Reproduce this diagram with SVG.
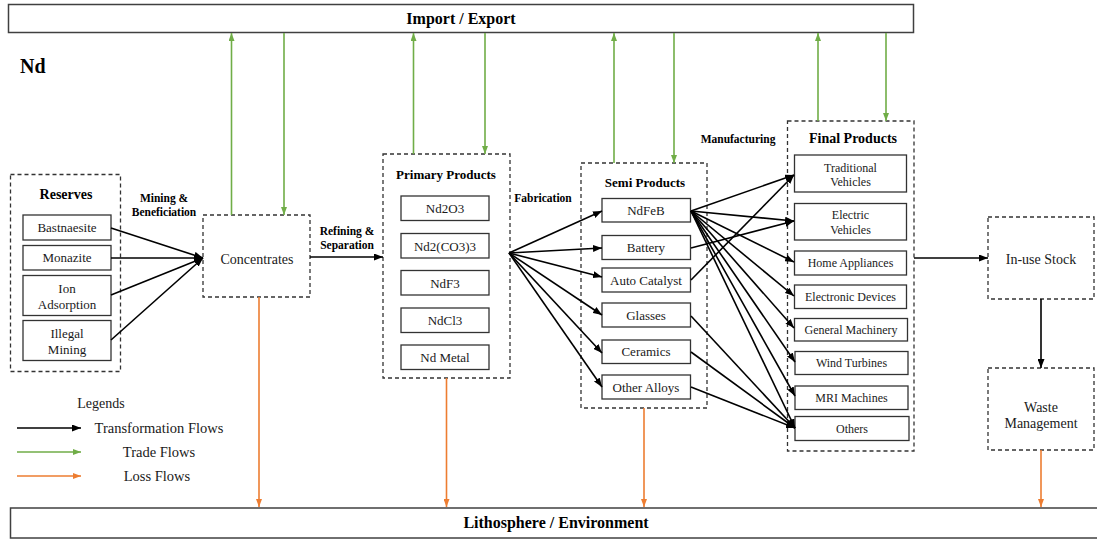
<svg xmlns="http://www.w3.org/2000/svg" width="1097" height="540" viewBox="0 0 1097 540">
<defs>
<style>
text{font-family:"Liberation Serif","Times New Roman",serif;fill:#1a1a1a;text-anchor:middle}
.t{font-size:13px}
.s{font-size:12px}
.m{font-size:14px}
.h{font-size:13px;font-weight:bold;fill:#000}
.hl{font-size:14px;font-weight:bold;fill:#000}
.lb{font-size:11.5px;font-weight:bold;fill:#000}
.big{font-size:16px;font-weight:bold;fill:#000}
.dash{fill:#fff;stroke:#333;stroke-width:1.3;stroke-dasharray:4 3}
.box{fill:#fff;stroke:#333;stroke-width:1.3}
.band{fill:#fff;stroke:#404040;stroke-width:1.5}
.k{stroke:#000;stroke-width:1.6;fill:none;marker-end:url(#ak)}
.g{stroke:#70ad47;stroke-width:1.6;fill:none;marker-end:url(#ag)}
.gn{stroke:#70ad47;stroke-width:1.6;fill:none}
.o{stroke:#ed7d31;stroke-width:1.6;fill:none;marker-end:url(#ao)}
</style>
<marker id="ak" viewBox="0 0 10 10" refX="10" refY="5" markerWidth="9" markerHeight="7" markerUnits="userSpaceOnUse" orient="auto" preserveAspectRatio="none"><path d="M0,0 L10,5 L0,10 z" fill="#000"/></marker>
<marker id="ag" viewBox="0 0 10 10" refX="10" refY="5" markerWidth="8" markerHeight="6" markerUnits="userSpaceOnUse" orient="auto" preserveAspectRatio="none"><path d="M0,0 L10,5 L0,10 z" fill="#70ad47"/></marker>
<marker id="ao" viewBox="0 0 10 10" refX="10" refY="5" markerWidth="8" markerHeight="6" markerUnits="userSpaceOnUse" orient="auto" preserveAspectRatio="none"><path d="M0,0 L10,5 L0,10 z" fill="#ed7d31"/></marker>
</defs>
<rect width="1097" height="540" fill="#fff"/>

<g id="import-export">
<rect class="band" x="8.5" y="4.5" width="905" height="28"/>
<text class="big" x="461" y="24">Import / Export</text>
</g>
<g id="lithosphere">
<rect class="band" x="10.5" y="508" width="1092" height="30"/>
<text class="big" x="556" y="528">Lithosphere / Environment</text>
</g>
<g id="title"><text x="20" y="73" style="font-size:20px;font-weight:bold;text-anchor:start;fill:#000">Nd</text></g>

<g id="reserves">
<rect class="dash" x="10.5" y="174.5" width="110" height="197"/>
<text class="hl" x="66" y="199">Reserves</text>
<rect class="box" x="23" y="215" width="88" height="25"/><text class="t" x="67" y="232">Bastnaesite</text>
<rect class="box" x="23" y="245.5" width="88" height="24.5"/><text class="t" x="67" y="262">Monazite</text>
<rect class="box" x="23" y="275.5" width="88" height="40"/><text class="t" x="67" y="293">Ion</text><text class="t" x="67" y="309">Adsorption</text>
<rect class="box" x="23" y="320.5" width="88" height="40"/><text class="t" x="67" y="338">Illegal</text><text class="t" x="67" y="354">Mining</text>
</g>

<g id="concentrates">
<rect class="dash" x="203" y="215" width="107" height="82"/>
<text class="m" x="257" y="264">Concentrates</text>
</g>

<g id="primary-products">
<rect class="dash" x="383" y="154" width="127" height="224"/>
<text class="h" x="446" y="179">Primary Products</text>
<rect class="box" x="401" y="196" width="88" height="24.5"/><text class="t" x="445" y="213">Nd2O3</text>
<rect class="box" x="401" y="233.5" width="88" height="24.5"/><text class="t" x="445" y="250.5">Nd2(CO3)3</text>
<rect class="box" x="401" y="270.5" width="88" height="24.5"/><text class="t" x="445" y="287.5">NdF3</text>
<rect class="box" x="401" y="308" width="88" height="24.5"/><text class="t" x="445" y="324.5">NdCl3</text>
<rect class="box" x="401" y="345" width="88" height="24.5"/><text class="t" x="445" y="361.5">Nd Metal</text>
</g>

<g id="semi-products">
<rect class="dash" x="581" y="163" width="126" height="245"/>
<text class="h" x="645" y="187">Semi Products</text>
<rect class="box" x="602" y="198.5" width="88.5" height="23.5"/><text class="t" x="646" y="214.5">NdFeB</text>
<rect class="box" x="602" y="235.5" width="88.5" height="24"/><text class="t" x="646" y="252">Battery</text>
<rect class="box" x="602" y="268" width="88.5" height="24"/><text class="t" x="646" y="284.5">Auto Catalyst</text>
<rect class="box" x="602" y="303" width="88.5" height="24"/><text class="t" x="646" y="319.5">Glasses</text>
<rect class="box" x="602" y="340" width="88.5" height="23.5"/><text class="t" x="646" y="356">Ceramics</text>
<rect class="box" x="602" y="375" width="88.5" height="24"/><text class="t" x="646" y="391.5">Other Alloys</text>
</g>

<g id="final-products">
<rect class="dash" x="787.5" y="121" width="126.5" height="330"/>
<text class="hl" x="853" y="143">Final Products</text>
<rect class="box" x="794.5" y="155" width="112" height="37"/><text class="s" x="850.5" y="171.5">Traditional</text><text class="s" x="850.5" y="186">Vehicles</text>
<rect class="box" x="794.5" y="203.5" width="112" height="36.5"/><text class="s" x="850.5" y="219">Electric</text><text class="s" x="850.5" y="233.5">Vehicles</text>
<rect class="box" x="794.5" y="251" width="112" height="24"/><text class="s" x="850.5" y="267">Home Appliances</text>
<rect class="box" x="794.5" y="285" width="112" height="23.5"/><text class="s" x="850.5" y="301">Electronic Devices</text>
<rect class="box" x="794.5" y="318.5" width="113" height="22.5"/><text class="s" x="851" y="334">General Machinery</text>
<rect class="box" x="795" y="351.5" width="113" height="23"/><text class="s" x="851.5" y="367">Wind Turbines</text>
<rect class="box" x="795" y="386" width="113" height="23.5"/><text class="s" x="851.5" y="402">MRI Machines</text>
<rect class="box" x="795" y="416.5" width="114" height="24"/><text class="s" x="852" y="433">Others</text>
</g>

<g id="in-use-stock">
<rect class="dash" x="988" y="217" width="106" height="82"/>
<text class="m" x="1041" y="264">In-use Stock</text>
</g>
<g id="waste-management">
<rect class="dash" x="988" y="368" width="106" height="82"/>
<text class="m" x="1041" y="411.5">Waste</text>
<text class="m" x="1041" y="428">Management</text>
</g>

<g id="labels">
<text class="lb" x="164" y="202">Mining &amp;</text>
<text class="lb" x="164" y="216">Beneficiation</text>
<text class="lb" x="347" y="235">Refining &amp;</text>
<text class="lb" x="347" y="249">Separation</text>
<text class="lb" x="543" y="202">Fabrication</text>
<text class="lb" x="738" y="143">Manufacturing</text>
</g>

<g id="connectors">
<path class="g" d="M231.5,215 V33"/>
<path class="g" d="M284,33 V215"/>
<path class="g" d="M413.5,154 V33"/>
<path class="g" d="M485,33 V154"/>
<path class="g" d="M614,163 V33"/>
<path class="g" d="M674,33 V163"/>
<path class="g" d="M818,121 V33"/>
<path class="g" d="M886,33 V121"/>

<path class="o" d="M259,297 V507"/>
<path class="o" d="M446.5,378 V507"/>
<path class="o" d="M644,408 V507"/>
<path class="o" d="M1041,450 V507"/>

<path class="k" d="M111,228 L203,258"/>
<path class="k" d="M111,258 L203,258"/>
<path class="k" d="M111,295 L203,258"/>
<path class="k" d="M111,340 L203,258"/>
<path class="k" d="M310,257 L383,257"/>

<path class="k" d="M509,253 L602,211"/>
<path class="k" d="M509,253 L602,248"/>
<path class="k" d="M509,253 L602,277"/>
<path class="k" d="M509,253 L602,315"/>
<path class="k" d="M509,253 L602,353"/>
<path class="k" d="M509,253 L602,387"/>

<path class="k" d="M691,211 L794,175"/>
<path class="k" d="M691,211 L794,221"/>
<path class="k" d="M691,211 L794,262"/>
<path class="k" d="M691,211 L794,296"/>
<path class="k" d="M691,211 L794,328"/>
<path class="k" d="M691,211 L795,362"/>
<path class="k" d="M691,211 L795,396"/>
<path class="k" d="M691,211 L795,428"/>
<path class="k" d="M691,248 L794,221"/>
<path class="k" d="M691,280 L794,175"/>
<path class="k" d="M691,316 L795,428"/>
<path class="k" d="M691,352 L795,428"/>
<path class="k" d="M691,387 L795,428"/>

<path class="k" d="M914,258 L988,258"/>
<path class="k" d="M1041,299 L1041,368"/>
</g>

<g id="legend">
<text class="m" x="101" y="408">Legends</text>
<path class="k" d="M17,428 L81,428"/>
<text class="m" x="159" y="432.5" style="font-size:14.5px">Transformation Flows</text>
<path class="g" d="M17,452 L81,452"/>
<text class="m" x="159" y="456.5" style="font-size:14.5px">Trade Flows</text>
<path class="o" d="M17,476 L81,476"/>
<text class="m" x="157" y="480.5" style="font-size:14.5px">Loss Flows</text>
</g>
</svg>
